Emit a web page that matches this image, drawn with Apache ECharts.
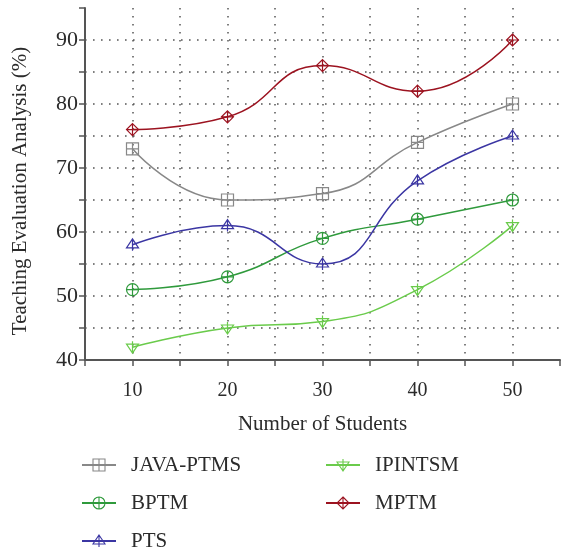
<!DOCTYPE html>
<html>
<head>
<meta charset="utf-8">
<script src="https://cdn.jsdelivr.net/npm/echarts@6/dist/echarts.min.js"></script>
<style>
html, body { margin: 0; padding: 0; background: #fff; }
#chart { width: 563px; height: 554px; }
</style>
</head>
<body>
<div id="chart"></div>
<script>
var students = [10, 20, 30, 40, 50]
var javaPtms = [73, 65, 66, 74, 80]
var bptm = [51, 53, 59, 62, 65]
var pts = [58, 61, 55, 68, 75]
var ipintsm = [42, 45, 46, 51, 61]
var mptm = [76, 78, 86, 82, 90]

// marker shapes (outline + cross)
var symSquare = 'path://M0,0L10,0L10,10L0,10ZM5,0L5,10M0,5L10,5'
var symCircle = 'path://M10,5A5,5,0,1,1,0,5A5,5,0,1,1,10,5ZM5,0L5,10M0,5L10,5'
var symTri = 'path://M5,0L10,9L0,9ZM5,0L5,12M0,9L10,9'
var symTriDown = 'path://M0,3L10,3L5,12ZM5,0L5,12M0,3L10,3'
var symDiamond = 'path://M5,0L10,5L5,10L0,5ZM5,0L5,10M0,5L10,5'

var font = 'Liberation Serif'
var textColor = '#2b2b2b'
var clear = 'rgba(255,255,255,0)'

function makeSeries (name, values, color, symbol) {
  return {
    name: name,
    type: 'line',
    smooth: 0.5,
    data: students.map(function (s, i) { return [s, values[i]] }),
    symbol: symbol,
    symbolSize: 12,
    lineStyle: { color: color, width: 1.5 },
    itemStyle: { color: clear, borderColor: color, borderWidth: 1.2 },
    emphasis: { disabled: true }
  }
}

// one legend per entry so the two columns line up
function makeLegend (name, left, rowY) {
  return {
    data: [name],
    left: left,
    top: rowY - 11,
    padding: 0,
    itemWidth: 34,
    itemHeight: 15,
    itemStyle: { color: clear, borderColor: 'inherit', borderWidth: 1.1 },
    textStyle: { fontFamily: font, fontSize: 21, lineHeight: 22, color: textColor, padding: [0, 0, 0, 10] }
  }
}

var option = {
  animation: false,
  backgroundColor: '#fff',
  grid: { left: 85, top: 8, right: 0, bottom: 194 },
  legend: [
    makeLegend('JAVA-PTMS', 81, 465),
    makeLegend('BPTM', 81, 503),
    makeLegend('PTS', 81, 541),
    makeLegend('IPINTSM', 325, 465),
    makeLegend('MPTM', 325, 503)
  ],
  xAxis: {
    type: 'value',
    min: 5,
    max: 55,
    interval: 5,
    name: 'Number of Students',
    nameLocation: 'middle',
    nameGap: 54,
    nameTextStyle: { fontFamily: font, fontSize: 21, color: textColor },
    axisLine: { lineStyle: { color: '#555', width: 2 } },
    axisTick: { length: 6, lineStyle: { color: '#555', width: 1.5 } },
    axisLabel: {
      fontFamily: font, fontSize: 20, color: textColor, margin: 21,
      formatter: function (v) { return (v % 10 === 0 && v < 55) ? v : '' }
    },
    splitLine: { show: true, showMaxLine: false, lineStyle: { color: '#555', type: [1.6, 6.4], width: 1.5 } }
  },
  yAxis: {
    type: 'value',
    min: 40,
    max: 95,
    interval: 5,
    name: 'Teaching Evaluation Analysis (%)',
    nameLocation: 'middle',
    nameGap: 54,
    nameTextStyle: { fontFamily: font, fontSize: 21, color: textColor, padding: [0, 14, 0, 0] },
    axisLine: { show: true, lineStyle: { color: '#555', width: 2 } },
    axisTick: { show: true, length: 6, lineStyle: { color: '#555', width: 1.5 } },
    axisLabel: {
      fontFamily: font, fontSize: 22, color: textColor, margin: 7,
      formatter: function (v) { return (v % 10 === 0) ? v : '' }
    },
    splitLine: { show: true, showMaxLine: false, lineStyle: { color: '#555', type: [1.6, 6.4], width: 1.5 } }
  },
  series: [
    makeSeries('JAVA-PTMS', javaPtms, '#888888', symSquare),
    makeSeries('BPTM', bptm, '#2f9a3c', symCircle),
    makeSeries('PTS', pts, '#3b36a3', symTri),
    makeSeries('IPINTSM', ipintsm, '#6acb4b', symTriDown),
    makeSeries('MPTM', mptm, '#9c1320', symDiamond)
  ]
}

var chart = echarts.init(document.getElementById('chart'))
chart.setOption(option)
</script>
</body>
</html>
